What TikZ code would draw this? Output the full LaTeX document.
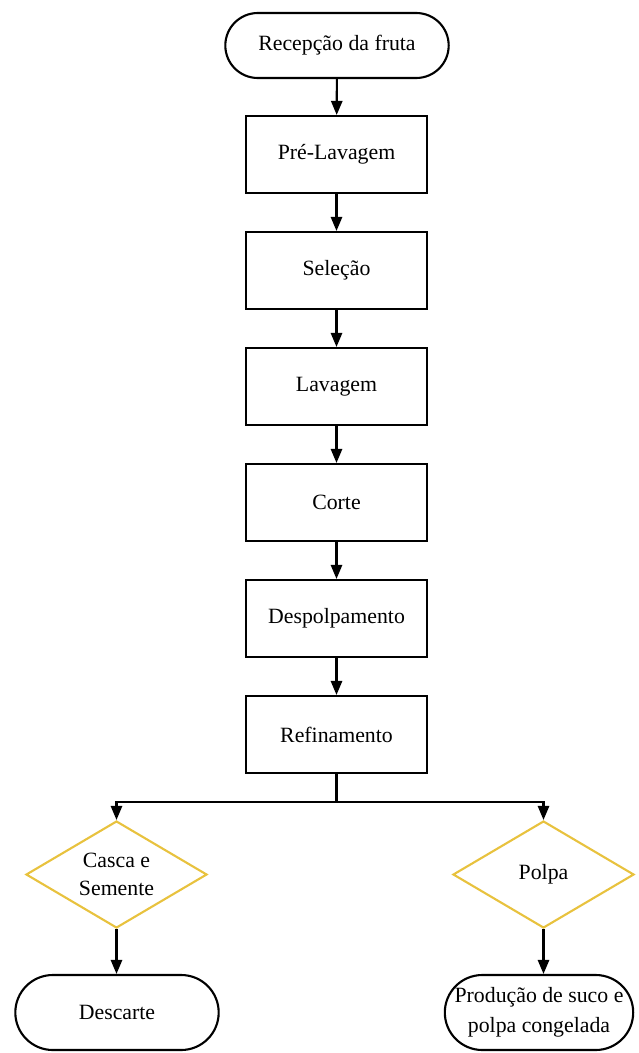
\documentclass[tikz,border=0pt]{standalone}
\usepackage{fontspec}
\setmainfont{Liberation Serif}
\usetikzlibrary{shapes.geometric, shapes.misc, arrows.meta}
\definecolor{amarelo}{RGB}{232,194,62}

\begin{document}
\begin{tikzpicture}[
		font=\fontsize{15.5}{19.5}\selectfont,
		etapa/.style={draw, line width=1.5pt, minimum width=4.525cm, minimum height=1.925cm},
		terminal/.style={draw, line width=1.5pt, rounded rectangle, align=center, inner sep=2pt},
		decisao/.style={draw=amarelo, line width=1.5pt, diamond, aspect=1.69, align=center, inner sep=0pt,
			minimum width=4.525cm, minimum height=2.675cm},
		seta/.style={-{Triangle[length=10pt,width=8pt]}, line width=1.5pt}]
		\useasboundingbox (0,0) rectangle (15.95,-26.325);
		
		% inicio
		\node[terminal, minimum width=5.725cm, minimum height=1.625cm] (recepcao) at (8.425,-1.1375) {Recepção da fruta};
		
		% etapas do processo
		\node[etapa] (prelav) at (8.4125,-3.8625) {Pré-Lavagem};
		\node[etapa] (selecao) at (8.4125,-6.7625) {Seleção};
		\node[etapa] (lavagem) at (8.4125,-9.6625) {Lavagem};
		\node[etapa] (corte) at (8.4125,-12.5625) {Corte};
		\node[etapa] (despolpa) at (8.4125,-15.4625) {Despolpamento};
		\node[etapa] (refino) at (8.4125,-18.3625) {Refinamento};
		
		\foreach \a/\b in {recepcao/prelav, prelav/selecao, selecao/lavagem, lavagem/corte, corte/despolpa, despolpa/refino}{
			\draw[seta] (\a) -- (\b);
		}
		
		% separacao
		\coordinate (divisao) at (8.4125,-20.05);
		\node[decisao] (casca) at (2.9125,-21.8625) {Casca e\\Semente};
		\node[decisao] (polpa) at (13.5875,-21.8625) {Polpa};
		\draw[line width=1.5pt] (refino) -- (divisao);
		\draw[seta] (divisao) -| (casca);
		\draw[seta] (divisao) -| (polpa);
		
		% destinos
		\node[terminal, minimum width=5.225cm, minimum height=1.875cm] (descarte) at (2.925,-25.3125) {Descarte};
		\node[terminal, minimum width=4.85cm, minimum height=1.875cm, font=\fontsize{15.5}{21}\selectfont] (producao) at (13.475,-25.3125) {Produção de suco e\\polpa congelada};
		\draw[seta] (casca) -- (casca |- descarte.north);
		\draw[seta] (polpa) -- (polpa |- producao.north);
	\end{tikzpicture}
\end{document}
